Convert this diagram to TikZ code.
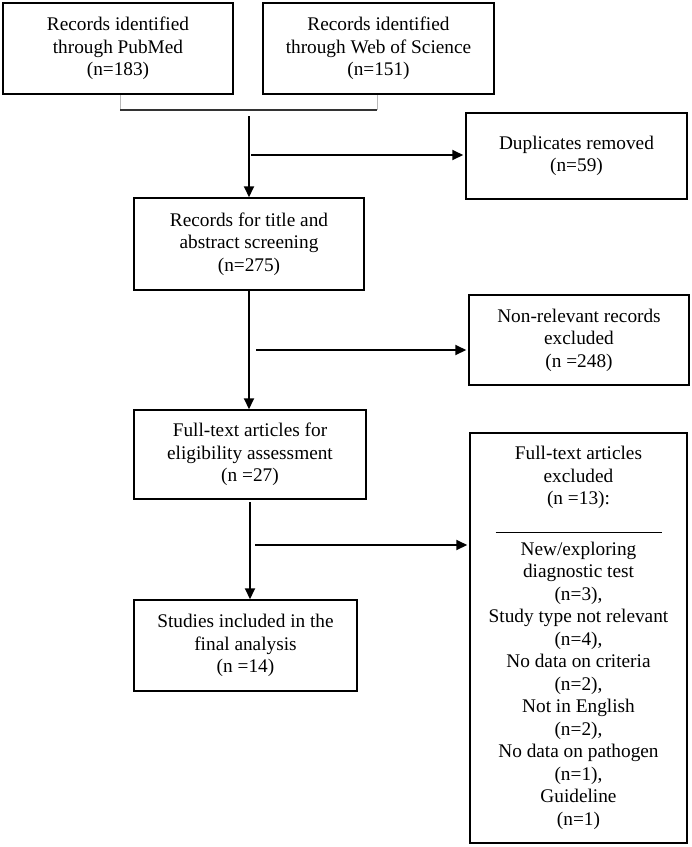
\documentclass[tikz,border=0pt]{standalone}
\usepackage{fontspec}
\setmainfont{Liberation Serif}
\usetikzlibrary{arrows.meta}
\begin{document}
\begin{tikzpicture}[x=1pt,y=-1pt,
    caja/.style={draw,line width=1.5pt,align=center,inner sep=0pt,
        font=\fontsize{19.3}{22.5}\selectfont},
    flecha/.style={line width=2pt,-{Triangle[length=11pt,width=10pt]},shorten >=2pt},
    ramal/.style={draw=gray!55,line width=1pt},
    union/.style={draw=black!80,line width=1.5pt}]
    \useasboundingbox (0,0) rectangle (692,847);
    %%%% BUSQUEDA
    \node[caja,minimum width=230pt,minimum height=91pt] at (118,48.5) (pubmed)
        {Records identified\\through PubMed\\(n=183)};
    \node[caja,minimum width=231pt,minimum height=91pt] at (378.5,48.5) (wos)
        {Records identified\\through Web of Science\\(n=151)};
    %union
    \coordinate (jl) at (120,110);
    \coordinate (jr) at (377,110);
    \coordinate (merge) at (249,116);
    \coordinate (dupfrom) at (251,155);
    \draw[ramal] (pubmed.south -| jl) -- (jl);
    \draw[ramal] (wos.south -| jr) -- (jr);
    \draw[union] (jl) -- (jr);
    %%%% CRIBADO
    \node[caja,minimum width=221pt,minimum height=86pt] at (576.5,156) (dup)
        {Duplicates removed\\(n=59)};
    \node[caja,minimum width=230pt,minimum height=92pt] at (249,244) (screen)
        {Records for title and\\abstract screening\\(n=275)};
    \node[caja,minimum width=220pt,minimum height=90pt] at (579,340) (nonrel)
        {Non-relevant records\\excluded\\(n =248)};
    \node[caja,minimum width=232pt,minimum height=89pt] at (250,454.5) (elig)
        {Full-text articles for\\eligibility assessment\\(n =27)};
    \node[caja,minimum width=217pt,minimum height=410pt] at (578.5,638) (excl)
        {Full-text articles\\excluded\\(n =13):\\[5.5pt]\rule{166pt}{0.8pt}\\
        New/exploring\\diagnostic test\\(n=3),\\Study type not relevant\\(n=4),\\
        No data on criteria\\(n=2),\\Not in English\\(n=2),\\No data on pathogen\\
        (n=1),\\Guideline\\(n=1)};
    \node[caja,minimum width=223pt,minimum height=91pt] at (245.5,645.5) (incl)
        {Studies included in the\\final analysis\\(n =14)};
    %flechas
    \coordinate (nonrelfrom) at (256,350);
    \coordinate (eligout) at (250,502);
    \coordinate (exclfrom) at (255,545);
    \draw[flecha,shorten >=0pt] (merge) -- (merge |- screen.north);
    \draw[flecha] (dupfrom) -- (dupfrom -| dup.west);
    \draw[flecha,shorten >=0pt] (screen.south) -- (screen.south |- elig.north);
    \draw[flecha] (nonrelfrom) -- (nonrelfrom -| nonrel.west);
    \draw[flecha,shorten >=0pt] (eligout) -- (eligout |- incl.north);
    \draw[flecha] (exclfrom) -- (exclfrom -| excl.west);
\end{tikzpicture}
\end{document}
